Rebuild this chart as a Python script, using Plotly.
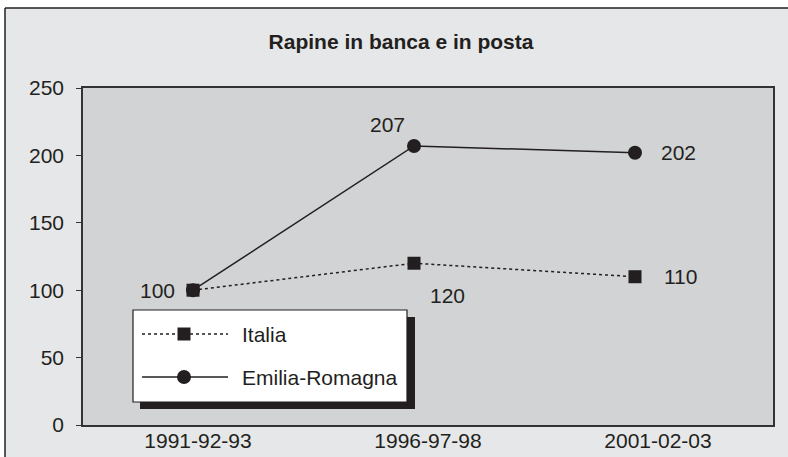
import plotly.graph_objects as go

# dati (indice, base 100)
periodi = ["1991-92-93", "1996-97-98", "2001-02-03"]
italia = [100, 120, 110]
emilia = [100, 207, 202]

nero = "#231f20"
font = "Liberation Sans, Arial, sans-serif"

W, H = 788, 457
L, R, T, B = 83, 15, 88, 32
pw, ph = W - L - R, H - T - B


def px(x):
    return (x - L) / pw


def py(y):
    return (H - B - y) / ph


fig = go.Figure()

# traccia vuota solo per tenere attivo l'asse delle etichette (x)
fig.add_trace(go.Scatter(x=periodi, y=[None] * len(periodi), mode="lines",
                         showlegend=False, hoverinfo="skip"))

# Emilia-Romagna first so the Italia square sits on top at 100
fig.add_trace(go.Scatter(x=periodi, y=emilia, name="Emilia-Romagna", xaxis="x2",
                         mode="lines+markers", line=dict(color=nero, width=1.5),
                         marker=dict(symbol="circle", size=14, color=nero)))
fig.add_trace(go.Scatter(x=periodi, y=italia, name="Italia", xaxis="x2",
                         mode="lines+markers", line=dict(color=nero, width=1.5, dash="dot"),
                         marker=dict(symbol="square", size=13, color=nero)))

# etichette dei valori
ann = []
off_it = [("right", -16, 0), ("center", 33, -32), ("left", 27, 0)]
off_er = [None, ("center", -27, 21), ("left", 24, 0)]
for p, v, o in zip(periodi, italia, off_it):
    ann.append(dict(x=p, y=v, xref="x2", yref="y", text=str(v), showarrow=False,
                    xanchor=o[0], yanchor="middle", xshift=o[1], yshift=o[2],
                    font=dict(size=21, color=nero, family=font)))
for p, v, o in zip(periodi, emilia, off_er):
    if o is None:
        continue
    ann.append(dict(x=p, y=v, xref="x2", yref="y", text=str(v), showarrow=False,
                    xanchor=o[0], yanchor="middle", xshift=o[1], yshift=o[2],
                    font=dict(size=21, color=nero, family=font)))

# legenda disegnata a mano (box con ombra)
y_it, y_er = py(334), py(377)
ann.append(dict(x=px(240), y=y_it, xref="paper", yref="paper", text="Italia", showarrow=False,
                xanchor="left", yanchor="middle", font=dict(size=21, color=nero, family=font)))
ann.append(dict(x=px(240), y=y_er, xref="paper", yref="paper", text="Emilia-Romagna", showarrow=False,
                xanchor="left", yanchor="middle", font=dict(size=21, color=nero, family=font)))

shapes = [
    # cornice esterna: fasce bianche fuori dal bordo + bordo
    dict(type="rect", xref="paper", yref="paper", x0=px(-5), x1=px(5), y0=py(470), y1=py(-5),
         fillcolor="white", line=dict(width=0), layer="below"),
    dict(type="rect", xref="paper", yref="paper", x0=px(-5), x1=px(800), y0=py(8), y1=py(-5),
         fillcolor="white", line=dict(width=0), layer="below"),
    dict(type="line", xref="paper", yref="paper", x0=px(5), x1=px(5), y0=py(470), y1=py(8),
         line=dict(color=nero, width=1.5), layer="below"),
    dict(type="line", xref="paper", yref="paper", x0=px(5), x1=px(800), y0=py(8), y1=py(8),
         line=dict(color=nero, width=1.5), layer="below"),
    # ombra e box legenda
    dict(type="rect", xref="paper", yref="paper", x0=px(140), x1=px(415), y0=py(409), y1=py(317),
         fillcolor=nero, line=dict(width=0), layer="above"),
    dict(type="rect", xref="paper", yref="paper", x0=px(133), x1=px(407), y0=py(402), y1=py(310),
         fillcolor="white", line=dict(color=nero, width=1.2), layer="above"),
    dict(type="line", xref="paper", yref="paper", x0=px(142), x1=px(228), y0=y_it, y1=y_it,
         line=dict(color=nero, width=1.5, dash="dot"), layer="above"),
    dict(type="line", xref="paper", yref="paper", x0=px(142), x1=px(228), y0=y_er, y1=y_er,
         line=dict(color=nero, width=1.5), layer="above"),
    dict(type="rect", xref="paper", yref="paper", xsizemode="pixel", ysizemode="pixel",
         xanchor=px(184), yanchor=y_it, x0=-6.5, x1=6.5, y0=-6.5, y1=6.5,
         fillcolor=nero, line=dict(width=0), layer="above"),
    dict(type="circle", xref="paper", yref="paper", xsizemode="pixel", ysizemode="pixel",
         xanchor=px(184), yanchor=y_er, x0=-7, x1=7, y0=-7, y1=7,
         fillcolor=nero, line=dict(width=0), layer="above"),
]

fig.update_layout(
    width=W, height=H,
    margin=dict(l=L, r=R, t=T, b=B),
    paper_bgcolor="#e6e7e8",
    plot_bgcolor="#d1d3d4",
    showlegend=False,
    font=dict(family=font, size=21, color=nero),
    title=dict(text="<b>Rapine in banca e in posta</b>", x=401 / W, xanchor="center",
               y=1 - 42 / H, yanchor="middle", font=dict(size=21, color=nero, family=font)),
    xaxis=dict(type="category", range=[-0.5, 2.5], ticks="", automargin=False,
               ticklabelstandoff=-4,
               showline=True, linecolor="#333333", linewidth=1.5, mirror=True,
               showgrid=False, zeroline=False),
    xaxis2=dict(type="category", overlaying="x", anchor="y", visible=False,
                range=[-(193 - L) / 221, 2 + (L + pw - 635) / 221]),
    yaxis=dict(range=[0, 250], tickvals=[0, 50, 100, 150, 200, 250], ticks="outside",
               ticklen=5, tickcolor="#333333", ticklabelstandoff=8, automargin=False,
               showline=True, linecolor="#333333", linewidth=1.5, mirror=True,
               showgrid=False, zeroline=False),
    annotations=ann,
    shapes=shapes,
)

# la pagina ha un margine di 8px di default: lo tolgo
fig.write_html("out.html", config={"displayModeBar": False},
               post_script="document.body.style.margin='0';")
